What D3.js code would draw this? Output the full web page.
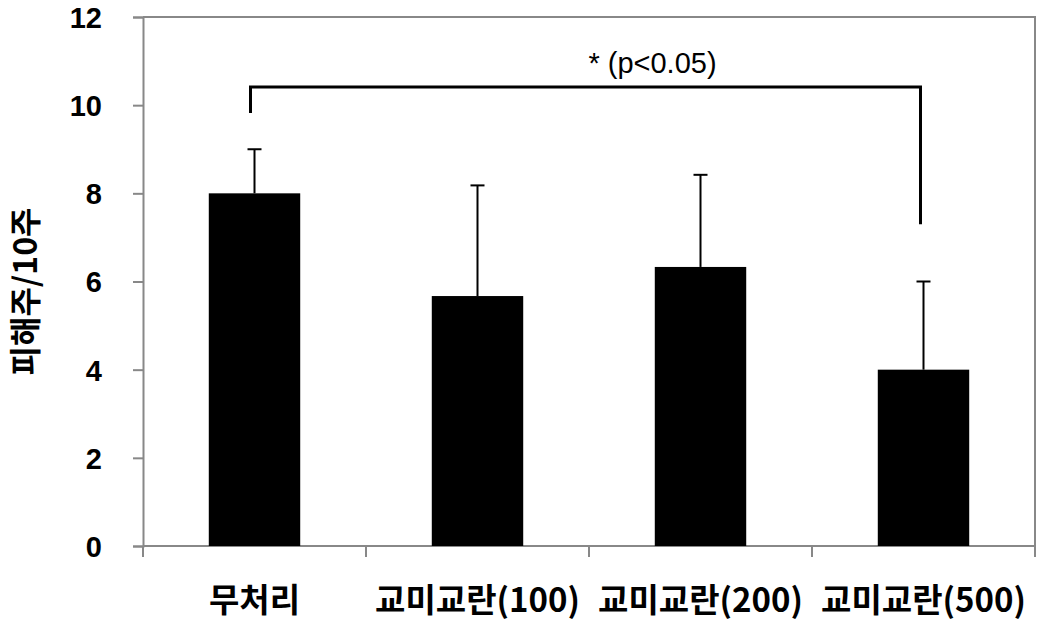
<!DOCTYPE html>
<html>
<head>
<meta charset="utf-8">
<script src="https://cdn.jsdelivr.net/npm/d3@7"></script>
<style>
  html, body { margin: 0; padding: 0; background: #fff; }
  svg { display: block; }
</style>
</head>
<body>
<div id="chart"></div>
<script>
const categories = ["무처리", "교미교란(100)", "교미교란(200)", "교미교란(500)"];
const values = [8, 5.67, 6.33, 4];
const errors = [1, 2.51, 2.09, 2];
const yTicks = [0, 2, 4, 6, 8, 10, 12];
const yTitle = "피해주/10주";
const sigLabel = "* (p<0.05)";
const sigPair = [0, 3];
const sigTop = 10.41;
const sigEnds = [9.82, 7.3];

const W = 1043, H = 624;
const margin = { left: 143, top: 17, right: 8, bottom: 78 };
const axisColor = "#888888";

const svg = d3.select("#chart").append("svg").attr("width", W).attr("height", H);

const x = d3.scaleBand().domain(categories)
  .range([margin.left, W - margin.right])
  .paddingInner(0.59).paddingOuter(0.295);
const y = d3.scaleLinear().domain([0, 12]).range([H - margin.bottom, margin.top]);

const x0 = margin.left, x1 = W - margin.right, y0 = H - margin.bottom, y1 = margin.top;

// plot-area border (top & right)
svg.append("path")
  .attr("d", `M${x0},${y1}H${x1}V${y0}`)
  .attr("fill", "none").attr("stroke", axisColor).attr("stroke-width", 2);

// y axis
const yAxis = svg.append("g").attr("transform", `translate(${x0},0)`)
  .call(d3.axisLeft(y).tickValues(yTicks).tickFormat(d3.format("d")).tickSize(10).tickPadding(31));
yAxis.select(".domain").attr("stroke", axisColor).attr("stroke-width", 2);
yAxis.selectAll(".tick line").attr("stroke", axisColor).attr("stroke-width", 2);
yAxis.selectAll(".tick text")
  .attr("font-family", "'Liberation Sans', Arial, sans-serif")
  .attr("font-weight", "bold").attr("font-size", 29).attr("fill", "#000")
  .attr("dy", "0.36em");

// x axis line + boundary ticks
svg.append("line").attr("x1", x0).attr("x2", x1).attr("y1", y0).attr("y2", y0)
  .attr("stroke", axisColor).attr("stroke-width", 2);
const step = x.step();
d3.range(categories.length + 1).forEach(i => {
  const bx = x0 + i * step;
  svg.append("line").attr("x1", bx).attr("x2", bx).attr("y1", y0).attr("y2", y0 + 11)
    .attr("stroke", axisColor).attr("stroke-width", 2);
});

// x labels
const xAxis = svg.append("g").attr("transform", `translate(0,${y0})`)
  .call(d3.axisBottom(x).tickSize(0).tickPadding(0));
xAxis.select(".domain").remove();
xAxis.selectAll(".tick text")
  .attr("font-family", "'Noto Sans CJK KR', sans-serif")
  .attr("font-weight", "bold").attr("font-size", 33).attr("fill", "#000")
  .attr("dy", null).attr("y", 66);

// bars
svg.append("g").selectAll("rect").data(categories).join("rect")
  .attr("x", d => x(d)).attr("width", x.bandwidth())
  .attr("y", (d, i) => y(values[i])).attr("height", (d, i) => y(0) - y(values[i]))
  .attr("fill", "#000");

// error bars (upper only)
const eg = svg.append("g").attr("stroke", "#000").attr("stroke-width", 2);
categories.forEach((c, i) => {
  const cx = x(c) + x.bandwidth() / 2;
  eg.append("line").attr("x1", cx).attr("x2", cx)
    .attr("y1", y(values[i])).attr("y2", y(values[i] + errors[i]));
  eg.append("line").attr("x1", cx - 7).attr("x2", cx + 7)
    .attr("y1", y(values[i] + errors[i])).attr("y2", y(values[i] + errors[i]));
});

// significance bracket
const bl = x(categories[sigPair[0]]) + x.bandwidth() / 2 - 4;
const br = x(categories[sigPair[1]]) + x.bandwidth() / 2 - 3;
svg.append("path")
  .attr("d", `M${bl},${y(sigEnds[0])}V${y(sigTop)}H${br}V${y(sigEnds[1])}`)
  .attr("fill", "none").attr("stroke", "#000").attr("stroke-width", 3);
svg.append("text")
  .attr("x", bl + 0.6 * (br - bl)).attr("y", y(sigTop) - 14)
  .attr("text-anchor", "middle")
  .attr("font-family", "'Liberation Sans', Arial, sans-serif")
  .attr("font-size", 29).attr("fill", "#000")
  .text(sigLabel);

// y title
svg.append("text")
  .attr("transform", `translate(37,${(y0 + y1) / 2 + 10}) rotate(-90)`)
  .attr("text-anchor", "middle")
  .attr("font-family", "'Noto Sans CJK KR', sans-serif")
  .attr("font-weight", "bold").attr("font-size", 32).attr("fill", "#000")
  .text(yTitle);
</script>
</body>
</html>
